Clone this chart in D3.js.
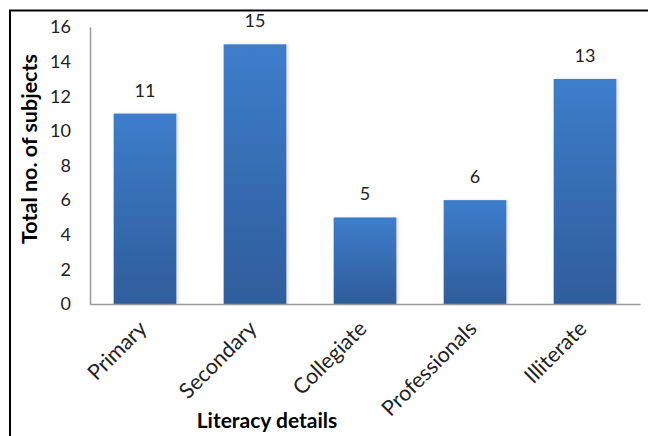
<!DOCTYPE html>
<html>
<head>
<meta charset="utf-8">
<script src="https://cdn.jsdelivr.net/npm/d3@7/dist/d3.min.js"></script>
<style>
  html, body { margin: 0; padding: 0; background: #fff; }
  svg { display: block; }
</style>
</head>
<body>
<script>
// Literacy level of subjects
const categories = ["Primary", "Secondary", "Collegiate", "Professionals", "Illiterate"];
const counts = [11, 15, 5, 6, 13];
const yTicks = [0, 2, 4, 6, 8, 10, 12, 14, 16];

const W = 648, H = 436;
const plot = { left: 90, right: 640, top: 27, bottom: 304 };
const font = "Lato, 'Open Sans', sans-serif";

const svg = d3.select("body").append("svg")
  .attr("width", W).attr("height", H);

// frame around the chart area
svg.append("path")
  .attr("d", `M10,${H + 2} L10,10.5 L${W + 2},10.5`)
  .attr("fill", "none").attr("stroke", "#000").attr("stroke-width", 2);

const defs = svg.append("defs");
const grad = defs.append("linearGradient")
  .attr("id", "barFill").attr("x1", 0).attr("y1", 0).attr("x2", 0).attr("y2", 1);
grad.append("stop").attr("offset", "0%").attr("stop-color", "#3d7dcb");
grad.append("stop").attr("offset", "100%").attr("stop-color", "#2f5d9b");

const shadow = defs.append("filter").attr("id", "barShadow")
  .attr("x", "-10%").attr("y", "-5%").attr("width", "130%").attr("height", "110%");
shadow.append("feDropShadow").attr("dx", 2).attr("dy", 0).attr("stdDeviation", 1.5)
  .attr("flood-color", "#000").attr("flood-opacity", 0.12);

const x = d3.scaleBand().domain(categories)
  .range([plot.left, plot.right]).paddingInner(0.43).paddingOuter(0.215);
const y = d3.scaleLinear().domain([0, 16]).range([plot.bottom, plot.top]);

// bars
svg.append("g").selectAll("rect").data(categories).join("rect")
  .attr("x", d => x(d))
  .attr("y", (d, i) => y(counts[i]))
  .attr("width", x.bandwidth())
  .attr("height", (d, i) => y(0) - y(counts[i]))
  .attr("fill", "url(#barFill)")
  .attr("filter", "url(#barShadow)");

// value labels
svg.append("g").selectAll("text").data(categories).join("text")
  .attr("x", d => x(d) + x.bandwidth() / 2)
  .attr("y", (d, i) => y(counts[i]) - 17)
  .attr("text-anchor", "middle")
  .attr("font-family", font).attr("font-size", 18).attr("fill", "#222")
  .text((d, i) => counts[i]);

// y axis
const yAxis = svg.append("g").attr("transform", `translate(${plot.left},0)`)
  .call(d3.axisLeft(y).tickValues(yTicks).tickSize(0).tickPadding(19));
yAxis.select(".domain").attr("stroke", "#999").attr("stroke-width", 1.5);
yAxis.selectAll("text").attr("font-family", font).attr("font-size", 18).attr("fill", "#222");

// x axis
const xAxis = svg.append("g").attr("transform", `translate(0,${plot.bottom})`)
  .call(d3.axisBottom(x).tickSize(0).tickSizeOuter(0));
xAxis.select(".domain").attr("stroke", "#999").attr("stroke-width", 1.5);
xAxis.selectAll("text")
  .attr("font-family", font).attr("font-size", 21.5).attr("fill", "#222")
  .attr("text-anchor", "end")
  .attr("dy", null).attr("y", null)
  .attr("transform", "translate(3,26) rotate(-45)");

// axis titles
svg.append("text")
  .attr("transform", "translate(37,149) rotate(-90)")
  .attr("text-anchor", "middle")
  .attr("font-family", font).attr("font-size", 21.5).attr("font-weight", "bold").attr("fill", "#000")
  .text("Total no. of subjects");

svg.append("text")
  .attr("x", 267).attr("y", 428)
  .attr("text-anchor", "middle")
  .attr("font-family", font).attr("font-size", 21).attr("font-weight", "bold").attr("fill", "#000")
  .text("Literacy details");
</script>
</body>
</html>
